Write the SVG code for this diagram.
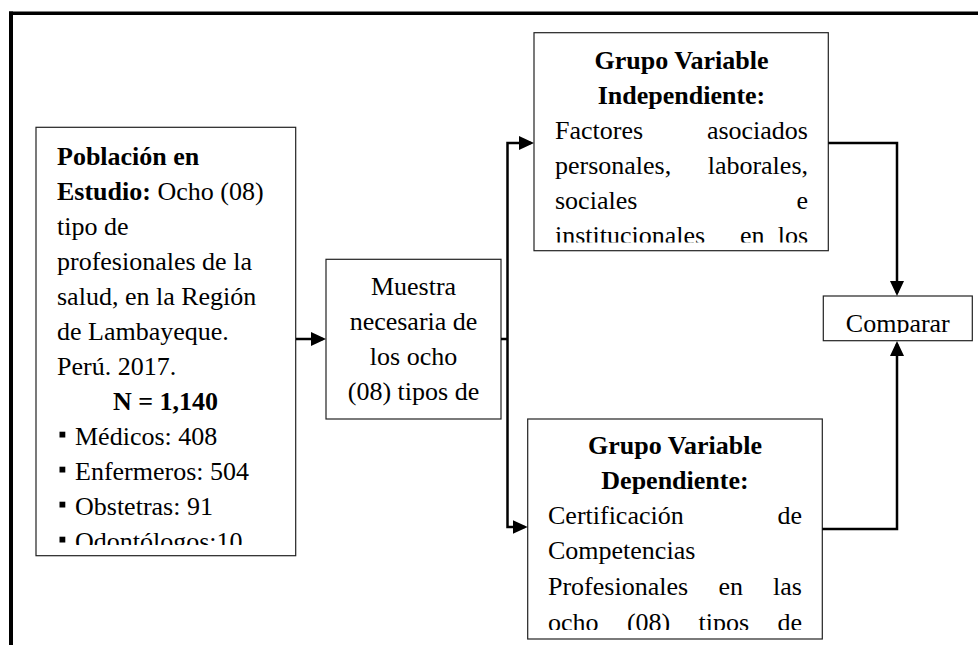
<svg xmlns="http://www.w3.org/2000/svg" width="978" height="645" viewBox="0 0 978 645">
<style>
.box{fill:#fff;stroke:#222;stroke-width:1.2}
.t{font-family:"Liberation Serif","Times New Roman",serif;font-size:26px;fill:#000}
.b{font-weight:bold}
.m{text-anchor:middle}
.e{text-anchor:end}
.conn path{fill:none;stroke:#000;stroke-width:2.5;stroke-linejoin:miter}
.frame{fill:#000}
</style>
<defs>
<marker id="arr" markerUnits="userSpaceOnUse" markerWidth="15" markerHeight="14" refX="12" refY="7" orient="auto">
<path d="M0,0 L15,7 L0,14 z" fill="#000"/>
</marker>
<clipPath id="cp1"><rect x="36" y="127" width="260" height="418"/></clipPath>
<clipPath id="cp2"><rect x="326" y="259" width="175" height="160"/></clipPath>
<clipPath id="cp3"><rect x="534" y="33" width="294" height="209.5"/></clipPath>
<clipPath id="cp4"><rect x="528" y="419" width="294" height="211"/></clipPath>
<clipPath id="cp5"><rect x="823" y="296" width="149" height="37"/></clipPath>
</defs>
<rect class="frame" x="9" y="11.5" width="969" height="3.5"/>
<rect class="frame" x="9" y="11.5" width="4" height="633.5"/>

<g id="poblacion">
<rect class="box" x="36" y="127.3" width="259.7" height="428.4"/>
<g clip-path="url(#cp1)">
<text class="t b" x="57" y="165">Población en</text>
<text class="t" x="57" y="200"><tspan class="b">Estudio:</tspan> Ocho (08)</text>
<text class="t" x="57" y="235">tipo de</text>
<text class="t" x="57" y="270">profesionales de la</text>
<text class="t" x="57" y="305">salud, en la Región</text>
<text class="t" x="57" y="340">de Lambayeque.</text>
<text class="t" x="57" y="375">Perú. 2017.</text>
<text class="t b m" x="165.5" y="410">N = 1,140</text>
<rect x="59.5" y="431.7" width="5.8" height="5.8" fill="#000"/>
<text class="t" x="75" y="445">Médicos: 408</text>
<rect x="59.5" y="466.7" width="5.8" height="5.8" fill="#000"/>
<text class="t" x="75" y="480">Enfermeros: 504</text>
<rect x="59.5" y="501.7" width="5.8" height="5.8" fill="#000"/>
<text class="t" x="75" y="515">Obstetras: 91</text>
<rect x="59.5" y="536.7" width="5.8" height="5.8" fill="#000"/>
<text class="t" x="75" y="550">Odontólogos:10</text>
</g>
</g>

<g id="muestra">
<rect class="box" x="326" y="259.3" width="175" height="159.7"/>
<g clip-path="url(#cp2)">
<text class="t m" x="413.5" y="295">Muestra</text>
<text class="t m" x="413.5" y="330">necesaria de</text>
<text class="t m" x="413.5" y="365">los ocho</text>
<text class="t m" x="413.5" y="400">(08) tipos de</text>
</g>
</g>

<g id="independiente">
<rect class="box" x="534" y="32.7" width="294.3" height="218"/>
<g clip-path="url(#cp3)">
<text class="t b m" x="681.5" y="68.5">Grupo Variable</text>
<text class="t b m" x="681.5" y="103.5">Independiente:</text>
<text class="t" x="555" y="138.5">Factores</text>
<text class="t e" x="808" y="138.5">asociados</text>
<text class="t" x="555" y="173.5">personales,</text>
<text class="t e" x="808" y="173.5">laborales,</text>
<text class="t" x="555" y="208.5">sociales</text>
<text class="t e" x="808" y="208.5">e</text>
<text class="t" x="555" y="243.5">institucionales</text>
<text class="t" x="740" y="243.5">en</text>
<text class="t e" x="808" y="243.5">los</text>
</g>
</g>

<g id="dependiente">
<rect class="box" x="527.7" y="419" width="294.6" height="220"/>
<g clip-path="url(#cp4)">
<text class="t b m" x="675" y="453.5">Grupo Variable</text>
<text class="t b m" x="675" y="488.8">Dependiente:</text>
<text class="t" x="548" y="524.1">Certificación</text>
<text class="t e" x="802" y="524.1">de</text>
<text class="t" x="548" y="559.4">Competencias</text>
<text class="t" x="548" y="594.7">Profesionales</text>
<text class="t" x="718.4" y="594.7">en</text>
<text class="t e" x="802" y="594.7">las</text>
<text class="t" x="548" y="630.5">ocho</text>
<text class="t" x="626.9" y="630.5">(08)</text>
<text class="t" x="698.6" y="630.5">tipos</text>
<text class="t e" x="802" y="630.5">de</text>
</g>
</g>

<g id="comparar">
<rect class="box" x="823.3" y="296" width="149" height="44.7"/>
<g clip-path="url(#cp5)">
<text class="t m" x="897.8" y="332">Comparar</text>
</g>
</g>

<g id="connectors" class="conn">
<path d="M296,339 H323" marker-end="url(#arr)"/>
<path d="M501,339 H507.5"/>
<path d="M507.5,339 V143 H531" marker-end="url(#arr)"/>
<path d="M507.5,339 V527 H524.7" marker-end="url(#arr)"/>
<path d="M828.3,143 H897 V293" marker-end="url(#arr)"/>
<path d="M822.3,529 H897 V344" marker-end="url(#arr)"/>
</g>
</svg>
